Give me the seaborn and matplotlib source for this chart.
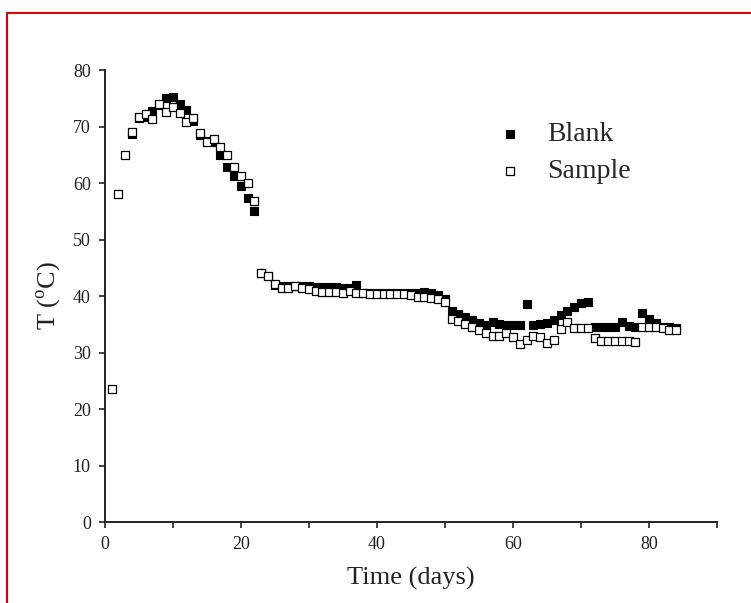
import numpy as np
import pandas as pd
import matplotlib.pyplot as plt
from matplotlib.lines import Line2D
import seaborn as sns

# temperature readings (deg C) per day
sample_days = list(range(1, 85))
sample_temp = [23.5, 58.0, 65.0, 69.0, 71.7, 72.3, 71.3, 74.0, 72.6, 73.5,
               72.4, 70.8, 71.5, 68.8, 67.3, 67.8, 66.4, 65.0, 62.8, 61.2,
               60.0, 56.8, 44.0, 43.5, 42.2, 41.5, 41.5, 41.7, 41.5, 41.3,
               40.8, 40.7, 40.7, 40.7, 40.6, 40.8, 40.6, 40.5, 40.4, 40.4,
               40.4, 40.3, 40.3, 40.3, 40.2, 39.8, 39.8, 39.7, 39.5, 39.0,
               36.0, 35.5, 35.0, 34.5, 34.0, 33.5, 33.0, 33.0, 33.5, 32.7,
               31.5, 32.2, 33.0, 32.7, 31.7, 32.2, 34.2, 35.4, 34.3, 34.3,
               34.3, 32.5, 32.0, 32.0, 32.0, 32.0, 32.0, 31.8, 34.5, 34.5,
               34.5, 34.3, 34.0, 34.0]

blank_days = list(range(4, 85))
blank_temp = [68.7, 71.5, 71.7, 72.8, 73.8, 75.0, 75.2, 74.0, 73.0, 71.0,
              68.5, 67.5, 67.2, 65.0, 62.8, 61.2, 59.5, 57.3, 55.0, 44.0,
              43.5, 42.0, 41.8, 41.8, 41.8, 41.8, 41.7, 41.6, 41.6, 41.6,
              41.6, 41.5, 41.5, 42.0, 40.5, 40.5, 40.5, 40.5, 40.5, 40.5,
              40.5, 40.5, 40.6, 40.7, 40.5, 40.2, 39.5, 37.3, 36.8, 36.3,
              35.7, 35.2, 34.9, 35.4, 35.0, 34.9, 34.9, 34.9, 38.5, 34.9,
              35.0, 35.3, 35.8, 36.6, 37.3, 38.0, 38.8, 39.0, 34.6, 34.6,
              34.6, 34.6, 35.4, 34.7, 34.6, 37.0, 35.9, 35.3, 34.6, 34.5,
              34.3]

sns.set_theme(style='ticks')
plt.rcParams['font.family'] = ['Liberation Serif', 'DejaVu Serif']
plt.rcParams['mathtext.fontset'] = 'custom'
plt.rcParams['mathtext.rm'] = 'Liberation Serif'

fig = plt.figure(figsize=(7.51, 6.03), dpi=100)
ax = fig.add_axes([0.1395, 0.1343, 0.8152, 0.7496])

sns.scatterplot(x=blank_days, y=blank_temp, marker='s', color='black',
                edgecolor='black', s=30, linewidth=0.8, label='Blank', ax=ax)
sns.scatterplot(x=sample_days, y=sample_temp, marker='s', color='white',
                edgecolor='black', s=30, linewidth=0.9, label='Sample', ax=ax)

ax.set_xlim(0, 90)
ax.set_ylim(0, 80)
ax.set_xticks([0, 20, 40, 60, 80])
ax.set_xticks([10, 30, 50, 70, 90], minor=True)
ax.set_yticks(np.arange(0, 81, 10))
ax.tick_params(axis='both', which='major', direction='out', length=4, width=1.2,
               pad=6, labelsize=13, colors='#222222')
ax.tick_params(axis='x', which='minor', direction='out', length=4, width=1.2,
               colors='#222222')
sns.despine(ax=ax)
for sp in ['left', 'bottom']:
    ax.spines[sp].set_linewidth(1.4)
    ax.spines[sp].set_color('#222222')

ax.set_xlabel('Time (days)', fontsize=19, labelpad=10, color='#222222')
ax.set_ylabel(r'T ($^{\mathregular{o}}$C)', fontsize=19, labelpad=7, color='#222222')

ax.legend(loc='upper left', bbox_to_anchor=(0.640, 0.885), frameon=False,
          fontsize=20, handlelength=1.0, handletextpad=0.82, borderpad=0,
          borderaxespad=0, labelspacing=0.4, markerscale=1.0)

# red frame of the original picture
fig.add_artist(Line2D([7 / 751, 7 / 751], [0, 1 - 13 / 603],
                      transform=fig.transFigure, color='#e00000', lw=1.5))
fig.add_artist(Line2D([7 / 751, 1], [1 - 13 / 603, 1 - 13 / 603],
                      transform=fig.transFigure, color='#e00000', lw=1.5))

fig.savefig('out.png', dpi=100)
